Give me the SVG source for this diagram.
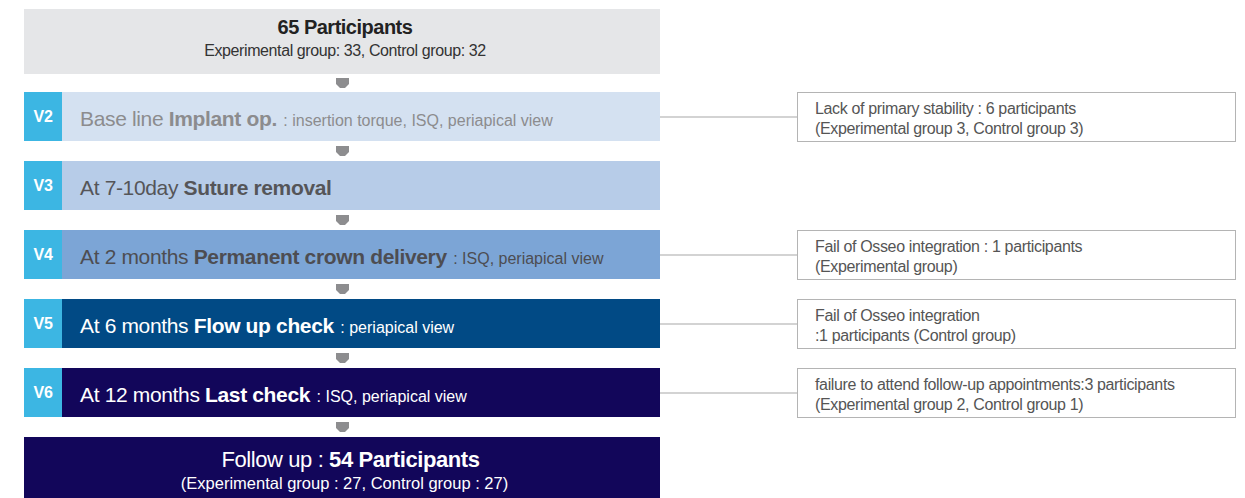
<svg xmlns="http://www.w3.org/2000/svg" width="1245" height="498" viewBox="0 0 1245 498">
  <defs>
    <style>
      text { font-family: "Liberation Sans", Arial, sans-serif; }
      .tag { fill: #3cb6e3; }
      .tagtxt { fill: #ffffff; font-size: 16px; font-weight: bold; text-anchor: middle; letter-spacing: -0.4px; }
      .big { font-size: 21px; letter-spacing: -0.35px; }
      .b { font-weight: bold; }
      .detail { font-size: 16px; letter-spacing: 0px; }
      .sm { font-size: 16px; letter-spacing: -0.4px; }
      .side { fill: #ffffff; stroke: #b4b4b4; stroke-width: 1; }
      .sidetxt { fill: #555555; font-size: 16px; letter-spacing: -0.35px; }
      .step { fill: #8d8d8f; }
      .link { stroke: #a8a8a8; stroke-width: 1.2; fill: none; }
    </style>
    <polygon id="step" points="-6.5,0 6.5,0 6.5,6 2.5,10 -2.5,10 -6.5,6"/>
  </defs>

  <!-- connectors to exclusion boxes and step arrows -->
  <g id="connectors">
    <line class="link" x1="660" y1="117" x2="797" y2="117"/>
    <line class="link" x1="660" y1="255" x2="797" y2="255"/>
    <line class="link" x1="660" y1="324" x2="797" y2="324"/>
    <line class="link" x1="660" y1="393" x2="797" y2="393"/>
    <g class="step">
      <use href="#step" x="342.5" y="78"/>
      <use href="#step" x="342.5" y="146"/>
      <use href="#step" x="342.5" y="215"/>
      <use href="#step" x="342.5" y="284"/>
      <use href="#step" x="342.5" y="353"/>
      <use href="#step" x="342.5" y="422"/>
    </g>
  </g>

  <!-- enrolment -->
  <g id="enrolment">
    <rect x="24" y="9" width="636" height="65" fill="#e5e6e8"/>
    <text x="345" y="34" text-anchor="middle" fill="#222222" style="font-size:20px;font-weight:bold;letter-spacing:-0.5px">65 Participants</text>
    <text x="345" y="56" text-anchor="middle" fill="#333333" class="sm">Experimental group: 33, Control group: 32</text>
  </g>

  <!-- V2 -->
  <g id="v2">
    <rect x="24" y="92" width="636" height="49" fill="#d4e1f1"/>
    <rect class="tag" x="24" y="92" width="38" height="49"/>
    <text class="tagtxt" x="43" y="122">V2</text>
    <text x="80" y="126" fill="#8c8c8e" class="big">Base line <tspan class="b">Implant op.</tspan><tspan class="detail" dx="2"> : insertion torque, ISQ, periapical view</tspan></text>
  </g>

  <!-- V3 -->
  <g id="v3">
    <rect x="24" y="161" width="636" height="49" fill="#b7cce8"/>
    <rect class="tag" x="24" y="161" width="38" height="49"/>
    <text class="tagtxt" x="43" y="191">V3</text>
    <text x="80" y="195" fill="#555558" class="big">At 7-10day <tspan class="b">Suture removal</tspan></text>
  </g>

  <!-- V4 -->
  <g id="v4">
    <rect x="24" y="230" width="636" height="49" fill="#7ca5d6"/>
    <rect class="tag" x="24" y="230" width="38" height="49"/>
    <text class="tagtxt" x="43" y="260">V4</text>
    <text x="80" y="264" fill="#4d4d52" class="big">At 2 months <tspan class="b">Permanent crown delivery</tspan><tspan class="detail" dx="2"> : ISQ, periapical view</tspan></text>
  </g>

  <!-- V5 -->
  <g id="v5">
    <rect x="24" y="299" width="636" height="49" fill="#014a85"/>
    <rect class="tag" x="24" y="299" width="38" height="49"/>
    <text class="tagtxt" x="43" y="329">V5</text>
    <text x="80" y="333" fill="#ffffff" class="big">At 6 months <tspan class="b">Flow up check</tspan><tspan class="detail" dx="2"> : periapical view</tspan></text>
  </g>

  <!-- V6 -->
  <g id="v6">
    <rect x="24" y="368" width="636" height="49" fill="#12065a"/>
    <rect class="tag" x="24" y="368" width="38" height="49"/>
    <text class="tagtxt" x="43" y="398">V6</text>
    <text x="80" y="402" fill="#ffffff" class="big">At 12 months <tspan class="b">Last check</tspan><tspan class="detail" dx="2"> : ISQ, periapical view</tspan></text>
  </g>

  <!-- follow-up -->
  <g id="followup">
    <rect x="24" y="437" width="636" height="61" fill="#12065a"/>
    <text x="350.5" y="467" text-anchor="middle" fill="#ffffff" style="font-size:22px;letter-spacing:-0.4px">Follow up : <tspan class="b">54 Participants</tspan></text>
    <text x="344.5" y="489" text-anchor="middle" fill="#ffffff" style="font-size:16.5px">(Experimental group : 27, Control group : 27)</text>
  </g>

  <!-- exclusions -->
  <g id="ex-v2">
    <rect class="side" x="797.5" y="92.5" width="438" height="49"/>
    <text class="sidetxt" x="815" y="114">Lack of primary stability : 6 participants</text>
    <text class="sidetxt" x="815" y="134">(Experimental group 3, Control group 3)</text>
  </g>
  <g id="ex-v4">
    <rect class="side" x="797.5" y="230.5" width="438" height="49"/>
    <text class="sidetxt" x="815" y="252">Fail of Osseo integration : 1 participants</text>
    <text class="sidetxt" x="815" y="272">(Experimental group)</text>
  </g>
  <g id="ex-v5">
    <rect class="side" x="797.5" y="299.5" width="438" height="49"/>
    <text class="sidetxt" x="815" y="321">Fail of Osseo integration</text>
    <text class="sidetxt" x="815" y="341">:1 participants (Control group)</text>
  </g>
  <g id="ex-v6">
    <rect class="side" x="797.5" y="368.5" width="438" height="49"/>
    <text class="sidetxt" x="815" y="390">failure to attend follow-up appointments:3 participants</text>
    <text class="sidetxt" x="815" y="410">(Experimental group 2, Control group 1)</text>
  </g>
</svg>
